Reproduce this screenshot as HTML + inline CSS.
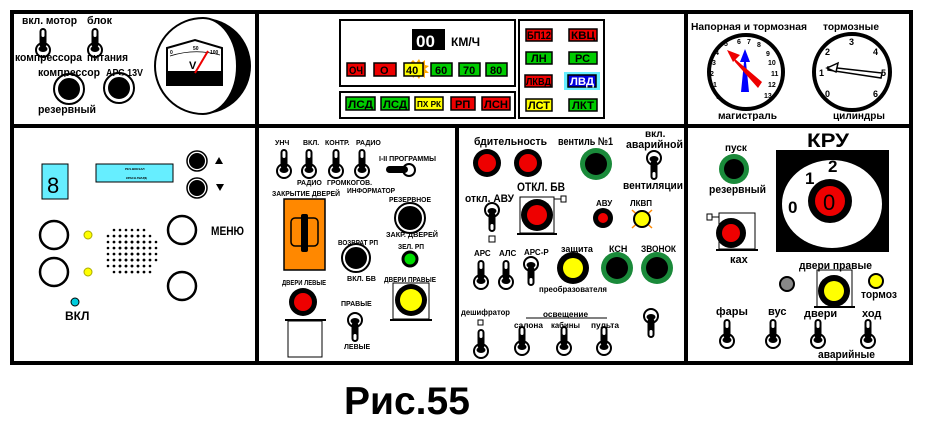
<!DOCTYPE html>
<html><head><meta charset="utf-8"><style>
html,body{margin:0;padding:0;background:#fff;width:925px;height:435px;overflow:hidden}
text{font-family:"Liberation Sans",Arial,sans-serif;font-weight:bold;fill:#000}
</style></head><body>
<svg width="925" height="435" viewBox="0 0 925 435" xmlns="http://www.w3.org/2000/svg">
<defs>
<g id="tg"><circle cx="0" cy="0" r="7" fill="#fff" stroke="#000" stroke-width="2"/><ellipse cx="0" cy="-1" rx="4.5" ry="3" fill="#000"/><rect x="-3.5" y="-22" width="7" height="20" rx="3.5" fill="#000"/><rect x="-1.5" y="-20" width="3" height="7" rx="1.5" fill="#fff"/></g>
<g id="tgd"><circle cx="0" cy="0" r="7" fill="#fff" stroke="#000" stroke-width="2"/><ellipse cx="0" cy="1" rx="4.5" ry="3" fill="#000"/><rect x="-3.5" y="2" width="7" height="20" rx="3.5" fill="#000"/><rect x="-1.5" y="14" width="3" height="6" rx="1.5" fill="#fff"/></g>
</defs>
<g fill="none" stroke="#000" stroke-width="4">
<rect x="12" y="12" width="899" height="351"/>
<line x1="12" y1="126" x2="911" y2="126"/>
<line x1="257" y1="12" x2="257" y2="363"/>
<line x1="686" y1="12" x2="686" y2="363"/>
<line x1="457" y1="126" x2="457" y2="363"/>
</g>
<!-- top left -->
<text x="22" y="24" font-size="11" textLength="55" lengthAdjust="spacingAndGlyphs">вкл. мотор</text><text x="87" y="24" font-size="11" textLength="25" lengthAdjust="spacingAndGlyphs">блок</text>
<use href="#tg" x="43" y="50"/><use href="#tg" x="95" y="50"/>
<text x="15" y="61" font-size="11" textLength="67" lengthAdjust="spacingAndGlyphs">компрессора</text><text x="87" y="61" font-size="11" textLength="41" lengthAdjust="spacingAndGlyphs">питания</text>
<text x="38" y="76" font-size="11" textLength="62" lengthAdjust="spacingAndGlyphs">компрессор</text><text x="106" y="76" font-size="10" textLength="37" lengthAdjust="spacingAndGlyphs">АРС 13V</text>
<circle cx="69" cy="89" r="12" fill="#000" stroke="#fff" stroke-width="2"/><circle cx="69" cy="89" r="15" fill="none" stroke="#000" stroke-width="2"/>
<circle cx="119" cy="88" r="12" fill="#000" stroke="#fff" stroke-width="2"/><circle cx="119" cy="88" r="15" fill="none" stroke="#000" stroke-width="2"/>
<text x="38" y="113" font-size="11" textLength="58" lengthAdjust="spacingAndGlyphs">резервный</text>
<circle cx="203" cy="66" r="48" fill="#000"/>
<path d="M203 18 A48 48 0 1 0 203 114 A34 48 0 0 0 203 18Z" fill="#fff" stroke="#000" stroke-width="2"/>
<polygon points="167,48 195,40 222,48 222,85 167,85" fill="#fff" stroke="#000" stroke-width="2"/>
<rect x="168" y="71" width="54" height="14" fill="#000"/>
<path d="M170 56 Q195 48 220 55" fill="none" stroke="#000" stroke-width="0.8"/>
<text x="170" y="54" font-size="5">0</text><text x="193" y="50" font-size="5">50</text><text x="210" y="54" font-size="5">100</text>
<text x="189" y="69" font-size="11">V</text>
<line x1="195" y1="73" x2="208" y2="51" stroke="#e00" stroke-width="2"/>
<!-- top middle -->
<rect x="340" y="20" width="175" height="66" fill="none" stroke="#000" stroke-width="2"/>
<rect x="340" y="92" width="175" height="26" fill="none" stroke="#000" stroke-width="2"/>
<rect x="519" y="20" width="85" height="98" fill="none" stroke="#000" stroke-width="2"/>
<rect x="412" y="29" width="33" height="21" fill="#000"/>
<text x="416" y="47" font-size="17" style="fill:#fff">00</text>
<text x="451" y="46" font-size="12">КМ/Ч</text>
<g stroke="#000" stroke-width="1.5" font-size="11">
<path d="M413 60 l3 3 l3 -4 l2 4 l4 -3 l0 5 l4 1 l-4 3 l4 4 l-4 0 l0 5 l-4 -3 l-2 4 l-3 -4 l-3 3 l-1 -4 l-4 0 l2 -4 l-3 -3 l4 -1 l0 -4 z" fill="#fa0" stroke="none"/>
<rect x="347" y="63" width="18" height="13" fill="#e00"/><rect x="374" y="63" width="22" height="13" fill="#e00"/>
<rect x="404" y="63" width="19" height="13" fill="#ff0"/><rect x="431" y="63" width="21" height="13" fill="#0c0"/>
<rect x="459" y="63" width="21" height="13" fill="#0c0"/><rect x="486" y="63" width="21" height="13" fill="#0c0"/>
<rect x="346" y="97" width="29" height="13" fill="#0c0"/><rect x="381" y="97" width="28" height="13" fill="#0c0"/>
<rect x="415" y="97" width="28" height="13" fill="#ff0"/><rect x="451" y="97" width="24" height="13" fill="#e00"/>
<rect x="482" y="97" width="28" height="13" fill="#e00"/>
<rect x="526" y="29" width="26" height="12" fill="#e00"/><rect x="569" y="29" width="28" height="12" fill="#e00"/>
<rect x="526" y="52" width="26" height="12" fill="#0c0"/><rect x="569" y="52" width="28" height="12" fill="#0c0"/>
<rect x="525" y="75" width="27" height="12" fill="#e00"/>
<rect x="564" y="72" width="36" height="18" fill="#6ef" stroke="none"/>
<rect x="568" y="75" width="28" height="12" fill="#00d"/>
<rect x="526" y="99" width="26" height="12" fill="#ff0"/><rect x="569" y="99" width="28" height="12" fill="#0c0"/>
</g>
<g font-size="11">
<text x="349" y="74" textLength="14" lengthAdjust="spacingAndGlyphs">ОЧ</text><text x="380" y="74">О</text><text x="406" y="74">40</text><text x="435" y="74">60</text><text x="463" y="74">70</text><text x="490" y="74">80</text>
<text x="348" y="108" textLength="25" lengthAdjust="spacingAndGlyphs">ЛСД</text><text x="383" y="108" textLength="24" lengthAdjust="spacingAndGlyphs">ЛСД</text><text x="417" y="107" font-size="8" textLength="24" lengthAdjust="spacingAndGlyphs">ПХ РК</text><text x="455" y="108">РП</text><text x="484" y="108" textLength="24" lengthAdjust="spacingAndGlyphs">ЛСН</text>
<text x="527" y="39" textLength="24" lengthAdjust="spacingAndGlyphs">БП12</text><text x="571" y="39" textLength="24" lengthAdjust="spacingAndGlyphs">КВЦ</text><text x="531" y="62">ЛН</text><text x="575" y="62">РС</text>
<text x="526" y="85" font-size="10" textLength="25" lengthAdjust="spacingAndGlyphs">ЛКВД</text><text x="570" y="85" style="fill:#fff" textLength="24" lengthAdjust="spacingAndGlyphs">ЛВД</text><text x="528" y="109" textLength="22" lengthAdjust="spacingAndGlyphs">ЛСТ</text><text x="572" y="109" textLength="22" lengthAdjust="spacingAndGlyphs">ЛКТ</text>
</g>
<!-- top right gauges -->
<text x="691" y="30" font-size="10" textLength="116" lengthAdjust="spacingAndGlyphs">Напорная и тормозная</text><text x="823" y="30" font-size="10" textLength="56" lengthAdjust="spacingAndGlyphs">тормозные</text>
<circle cx="746" cy="72" r="37" fill="#fff" stroke="#000" stroke-width="4"/>
<circle cx="852" cy="72" r="38" fill="#fff" stroke="#000" stroke-width="4"/>
<g font-size="7">
<text x="716" y="99">0</text><text x="713" y="87">1</text><text x="710" y="76">2</text><text x="712" y="65">3</text><text x="715" y="55">4</text><text x="724" y="46">5</text><text x="737" y="44">6</text><text x="747" y="44">7</text><text x="757" y="47">8</text><text x="766" y="56">9</text><text x="768" y="65">10</text><text x="771" y="76">11</text><text x="768" y="87">12</text><text x="764" y="98">13</text>
</g>
<g font-size="9"><text x="849" y="45">3</text><text x="825" y="55">2</text><text x="873" y="55">4</text><text x="819" y="76">1</text><text x="881" y="76">5</text><text x="825" y="97">0</text><text x="873" y="97">6</text></g>
<polygon points="741,92 745,52 749,92" fill="#00f"/><polygon points="740,62 745,49 750,62" fill="#00f"/>
<polygon points="728,53 762,82 758,88 735,62 733,58" fill="#e00"/><polygon points="727,50 740,55 733,62" fill="#e00"/>
<polygon points="828,67 882,73 881,78 828,70" fill="#fff" stroke="#000" stroke-width="1.5"/><polygon points="827,68 838,63 836,72" fill="#fff" stroke="#000" stroke-width="1.5"/>
<text x="718" y="119" font-size="10" textLength="59" lengthAdjust="spacingAndGlyphs">магистраль</text><text x="833" y="119" font-size="10" textLength="52" lengthAdjust="spacingAndGlyphs">цилиндры</text>
<!-- bottom left -->
<rect x="42" y="164" width="26" height="35" fill="#6ef" stroke="#000" stroke-width="1"/>
<text x="47" y="193" font-size="22" style="font-weight:normal">8</text>
<rect x="96" y="164" width="77" height="18" fill="#6ef" stroke="#000" stroke-width="1"/>
<text x="125" y="170" font-size="3">РЕЧ.ВОКЗАЛ</text><text x="126" y="179" font-size="3">КРАСН.ГВАРД</text>
<circle cx="197" cy="161" r="9" fill="#000" stroke="#fff" stroke-width="2"/><circle cx="197" cy="161" r="10" fill="none" stroke="#000" stroke-width="1.5"/>
<circle cx="197" cy="188" r="9" fill="#000" stroke="#fff" stroke-width="2"/><circle cx="197" cy="188" r="10" fill="none" stroke="#000" stroke-width="1.5"/>
<polygon points="215,164 219,157 223,164" fill="#000"/><polygon points="216,184 220,191 224,184" fill="#000"/>
<g fill="none" stroke="#000" stroke-width="2.5"><circle cx="54" cy="235" r="14"/><circle cx="54" cy="272" r="14"/><circle cx="182" cy="230" r="14"/><circle cx="182" cy="286" r="14"/></g>
<circle cx="88" cy="235" r="4" fill="#ff0" stroke="#aa0"/><circle cx="88" cy="272" r="4" fill="#ff0" stroke="#aa0"/>
<circle cx="75" cy="302" r="4" fill="#0cd" stroke="#000"/>
<text x="211" y="235" font-size="12" textLength="33" lengthAdjust="spacingAndGlyphs">МЕНЮ</text><text x="65" y="320" font-size="12">ВКЛ</text>
<g fill="#000">
<g id="r1"><circle cx="114" cy="230" r="1.3"/><circle cx="120" cy="230" r="1.3"/><circle cx="126" cy="230" r="1.3"/><circle cx="132" cy="230" r="1.3"/><circle cx="138" cy="230" r="1.3"/><circle cx="144" cy="230" r="1.3"/></g>
<use href="#r1" x="-6" y="6"/><use href="#r1" x="0" y="6"/><use href="#r1" x="6" y="6"/>
<use href="#r1" x="-6" y="12"/><use href="#r1" x="0" y="12"/><use href="#r1" x="6" y="12"/><use href="#r1" x="12" y="12"/>
<use href="#r1" x="-6" y="18"/><use href="#r1" x="0" y="18"/><use href="#r1" x="6" y="18"/><use href="#r1" x="12" y="18"/>
<use href="#r1" x="-6" y="24"/><use href="#r1" x="0" y="24"/><use href="#r1" x="6" y="24"/><use href="#r1" x="12" y="24"/>
<use href="#r1" x="-6" y="30"/><use href="#r1" x="0" y="30"/><use href="#r1" x="6" y="30"/><use href="#r1" x="12" y="30"/>
<use href="#r1" x="-6" y="36"/><use href="#r1" x="0" y="36"/><use href="#r1" x="6" y="36"/>
<use href="#r1" x="0" y="42"/><use href="#r1" x="6" y="42"/>
</g>
<!-- bottom middle -->
<g font-size="7">
<text x="275" y="145">УНЧ</text><text x="303" y="145">ВКЛ.</text><text x="325" y="145">КОНТР.</text><text x="356" y="145">РАДИО</text>
<text x="379" y="161" textLength="57" lengthAdjust="spacingAndGlyphs">I-II ПРОГРАММЫ</text>
<text x="297" y="185">РАДИО</text><text x="327" y="185" textLength="45" lengthAdjust="spacingAndGlyphs">ГРОМКОГОВ.</text><text x="347" y="193" textLength="48" lengthAdjust="spacingAndGlyphs">ИНФОРМАТОР</text>
<text x="272" y="196" textLength="68" lengthAdjust="spacingAndGlyphs">ЗАКРЫТИЕ ДВЕРЕЙ</text>
<text x="389" y="202" textLength="42" lengthAdjust="spacingAndGlyphs">РЕЗЕРВНОЕ</text><text x="386" y="237" textLength="52" lengthAdjust="spacingAndGlyphs">ЗАКР. ДВЕРЕЙ</text>
<text x="338" y="245" textLength="40" lengthAdjust="spacingAndGlyphs">ВОЗВРАТ РП</text><text x="398" y="249" textLength="26" lengthAdjust="spacingAndGlyphs">ЗЕЛ. РП</text>
<text x="347" y="281" textLength="29" lengthAdjust="spacingAndGlyphs">ВКЛ. БВ</text><text x="282" y="285" textLength="44" lengthAdjust="spacingAndGlyphs">ДВЕРИ ЛЕВЫЕ</text><text x="384" y="282" textLength="52" lengthAdjust="spacingAndGlyphs">ДВЕРИ ПРАВЫЕ</text>
<text x="341" y="306">ПРАВЫЕ</text><text x="344" y="349">ЛЕВЫЕ</text>
</g>
<use href="#tg" x="284" y="171"/><use href="#tg" x="309" y="171"/><use href="#tg" x="336" y="171"/><use href="#tg" x="362" y="171"/>
<circle cx="409" cy="170" r="6" fill="#fff" stroke="#000" stroke-width="2"/><rect x="386" y="166" width="22" height="7" rx="3.5" fill="#000"/>
<rect x="284" y="199" width="41" height="71" fill="#f80" stroke="#000" stroke-width="1.5"/>
<rect x="291" y="218" width="27" height="28" rx="4" fill="none" stroke="#000" stroke-width="1.5"/><rect x="301" y="214" width="7" height="38" rx="2" fill="#000"/>
<circle cx="410" cy="218" r="13" fill="#000" stroke="#fff" stroke-width="2"/><circle cx="410" cy="218" r="15" fill="none" stroke="#000" stroke-width="2"/>
<circle cx="356" cy="258" r="12" fill="#000" stroke="#fff" stroke-width="2"/><circle cx="356" cy="258" r="14" fill="none" stroke="#000" stroke-width="2"/>
<circle cx="410" cy="259" r="7" fill="#0d0" stroke="#000" stroke-width="3"/>
<circle cx="303" cy="302" r="14" fill="#000"/><circle cx="303" cy="302" r="9" fill="#e00"/>
<line x1="285" y1="320" x2="326" y2="320" stroke="#000" stroke-width="2"/><rect x="288" y="321" width="34" height="36" fill="#fff" stroke="#000" stroke-width="1"/>
<rect x="393" y="283" width="36" height="36" fill="none" stroke="#000" stroke-width="1"/><line x1="390" y1="320" x2="432" y2="320" stroke="#000" stroke-width="2"/>
<circle cx="411" cy="300" r="16" fill="#000"/><circle cx="411" cy="300" r="11" fill="#ff0"/>
<use href="#tgd" x="355" y="320"/>
<!-- bottom right-middle -->
<text x="474" y="145" font-size="11" textLength="73" lengthAdjust="spacingAndGlyphs">бдительность</text><text x="558" y="145" font-size="11" textLength="55" lengthAdjust="spacingAndGlyphs">вентиль №1</text>
<text x="645" y="137" font-size="10">вкл.</text><text x="626" y="148" font-size="11" textLength="57" lengthAdjust="spacingAndGlyphs">аварийной</text><text x="623" y="189" font-size="11" textLength="60" lengthAdjust="spacingAndGlyphs">вентиляции</text>
<circle cx="487" cy="163" r="14" fill="#000"/><circle cx="487" cy="163" r="9" fill="#e00"/>
<circle cx="528" cy="163" r="14" fill="#000"/><circle cx="528" cy="163" r="9" fill="#e00"/>
<circle cx="596" cy="164" r="16" fill="#1a8a3a"/><circle cx="596" cy="164" r="11" fill="#000"/>
<use href="#tgd" x="654" y="158"/>
<text x="517" y="191" font-size="12" textLength="48" lengthAdjust="spacingAndGlyphs">ОТКЛ. БВ</text><text x="465" y="202" font-size="11" textLength="49" lengthAdjust="spacingAndGlyphs">откл. АВУ</text>
<rect x="520" y="197" width="34" height="36" fill="none" stroke="#000" stroke-width="1"/><line x1="517" y1="234" x2="557" y2="234" stroke="#000" stroke-width="2"/>
<line x1="554" y1="199" x2="561" y2="199" stroke="#000"/><rect x="561" y="196" width="5" height="6" fill="#fff" stroke="#000"/>
<circle cx="537" cy="215" r="16" fill="#000"/><circle cx="537" cy="215" r="10" fill="#e00"/>
<use href="#tgd" x="492" y="210"/><rect x="489" y="236" width="6" height="6" fill="#fff" stroke="#000"/>
<text x="596" y="206" font-size="8">АВУ</text><text x="630" y="206" font-size="8">ЛКВП</text>
<circle cx="603" cy="218" r="10" fill="#000"/><circle cx="603" cy="218" r="5" fill="#e00"/>
<path d="M632 210 L652 228 M632 228 L652 210" stroke="#f80" stroke-width="1.5"/>
<circle cx="642" cy="219" r="8" fill="#ff0" stroke="#000" stroke-width="2"/>
<g font-size="8"><text x="474" y="256">АРС</text><text x="499" y="256">АЛС</text><text x="524" y="255">АРС-Р</text>
<text x="561" y="252" font-size="9">защита</text><text x="609" y="252" font-size="9">КСН</text><text x="641" y="252" font-size="9" textLength="35" lengthAdjust="spacingAndGlyphs">ЗВОНОК</text>
<text x="539" y="292" textLength="68" lengthAdjust="spacingAndGlyphs">преобразователя</text>
<text x="461" y="315" textLength="49" lengthAdjust="spacingAndGlyphs">дешифратор</text><text x="543" y="317" textLength="45" lengthAdjust="spacingAndGlyphs">освещение</text>
<text x="514" y="328" textLength="29" lengthAdjust="spacingAndGlyphs">салона</text><text x="551" y="328" textLength="29" lengthAdjust="spacingAndGlyphs">кабины</text><text x="591" y="328" textLength="28" lengthAdjust="spacingAndGlyphs">пульта</text></g>
<line x1="526" y1="318" x2="607" y2="318" stroke="#000"/>
<use href="#tg" x="481" y="282"/><use href="#tg" x="506" y="282"/><use href="#tgd" x="531" y="264"/>
<circle cx="573" cy="268" r="16" fill="#000"/><circle cx="573" cy="268" r="10" fill="#ff0"/>
<circle cx="617" cy="268" r="16" fill="#1a8a3a"/><circle cx="617" cy="268" r="11" fill="#000"/>
<circle cx="657" cy="268" r="16" fill="#1a8a3a"/><circle cx="657" cy="268" r="11" fill="#000"/>
<rect x="478" y="320" width="5" height="5" fill="#fff" stroke="#000"/>
<use href="#tg" x="481" y="351"/><use href="#tg" x="522" y="348"/><use href="#tg" x="564" y="348"/><use href="#tg" x="604" y="348"/>
<use href="#tgd" x="651" y="316"/>
<!-- far right -->
<text x="807" y="147" font-size="19" textLength="42" lengthAdjust="spacingAndGlyphs">КРУ</text>
<rect x="776" y="150" width="113" height="102" fill="#000"/>
<ellipse cx="832" cy="204" rx="50" ry="44" fill="#fff"/>
<circle cx="830" cy="201" r="22" fill="#000"/><circle cx="830" cy="201" r="15" fill="#e00"/>
<text x="823" y="210" font-size="22" style="font-weight:normal">0</text>
<text x="788" y="213" font-size="17">0</text><text x="805" y="184" font-size="17">1</text><text x="828" y="172" font-size="17">2</text>
<text x="725" y="151" font-size="10">пуск</text><text x="709" y="193" font-size="11" textLength="57" lengthAdjust="spacingAndGlyphs">резервный</text>
<circle cx="734" cy="169" r="15" fill="#1a8a3a"/><circle cx="734" cy="169" r="10" fill="#000"/>
<rect x="719" y="213" width="36" height="36" fill="none" stroke="#000" stroke-width="1"/><line x1="716" y1="250" x2="758" y2="250" stroke="#000" stroke-width="2"/>
<line x1="712" y1="217" x2="719" y2="217" stroke="#000"/><rect x="707" y="214" width="5" height="6" fill="#fff" stroke="#000"/>
<circle cx="731" cy="233" r="15" fill="#000"/><circle cx="731" cy="233" r="9" fill="#e00"/>
<text x="730" y="263" font-size="11">ках</text>
<text x="799" y="269" font-size="11" textLength="73" lengthAdjust="spacingAndGlyphs">двери правые</text>
<circle cx="787" cy="284" r="7" fill="#888" stroke="#000" stroke-width="2"/>
<rect x="817" y="270" width="35" height="37" fill="none" stroke="#000" stroke-width="1"/><line x1="814" y1="307" x2="855" y2="307" stroke="#000" stroke-width="2"/>
<circle cx="834" cy="291" r="16" fill="#000"/><circle cx="834" cy="291" r="10" fill="#ff0"/>
<circle cx="876" cy="281" r="7" fill="#ff0" stroke="#000" stroke-width="2"/>
<text x="861" y="298" font-size="11" textLength="36" lengthAdjust="spacingAndGlyphs">тормоз</text>
<g font-size="11"><text x="716" y="315">фары</text><text x="768" y="315">вус</text><text x="804" y="317">двери</text><text x="862" y="317">ход</text><text x="818" y="358" textLength="57" lengthAdjust="spacingAndGlyphs">аварийные</text></g>
<use href="#tg" x="727" y="341"/><use href="#tg" x="773" y="341"/><use href="#tg" x="818" y="341"/><use href="#tg" x="868" y="341"/>
<text x="344" y="414" font-size="39">Рис.55</text>
</svg>
</body></html>
